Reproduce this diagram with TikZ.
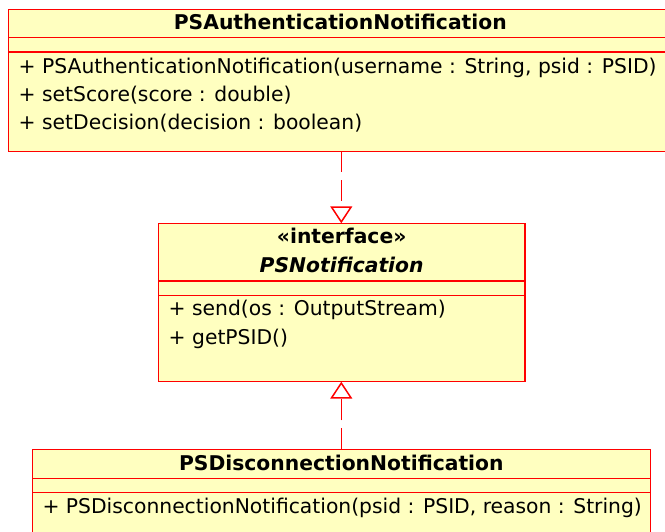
\documentclass[tikz,border=0pt]{standalone}
\usepackage{fontspec}
\setmainfont{DejaVu Sans}
\usetikzlibrary{arrows.meta}
\definecolor{umlfill}{RGB}{255,255,192}
\definecolor{umlline}{RGB}{255,0,0}

\begin{document}
\begin{tikzpicture}[x=1pt,y=-1pt,
  classbox/.style={draw=umlline, fill=umlfill, line width=1.5pt, anchor=north west,
    inner sep=0pt, outer sep=0pt},
  sepline/.style={draw=umlline, line width=1.5pt},
  classtitle/.style={anchor=base, inner sep=0pt,
    font=\fontsize{20.3}{24}\selectfont\bfseries},
  member/.style={anchor=base west, inner sep=0pt,
    font=\fontsize{20.3}{24}\selectfont},
  realize/.style={draw=umlline, line width=1.5pt, dash pattern=on 21pt off 8pt,
    -{Triangle[open, length=17pt, width=22pt, fill=white]}}
]
\useasboundingbox (0,0) rectangle (665,532);
\fill[white] (0,0) rectangle (665,532);

% PSAuthenticationNotification
\node[classbox, minimum width=664pt, minimum height=142pt] (auth) at (8.3,9.3) {};
\draw[sepline] ([yshift=-28.4pt]auth.north west) -- ([yshift=-28.4pt]auth.north east);
\draw[sepline] ([yshift=-42.7pt]auth.north west) -- ([yshift=-42.7pt]auth.north east);
\node[classtitle] (authname) at ([yshift=-20.7pt]auth.north) {PSAuthenticationNotification};
\node[member] (authop1) at ([xshift=10.2pt,yshift=-64pt]auth.north west)
  {+ PSAuthenticationNotification(username : String, psid : PSID)};
\node[member] (authop2) at ([xshift=10.2pt,yshift=-92.4pt]auth.north west)
  {+ setScore(score : double)};
\node[member] (authop3) at ([xshift=10.2pt,yshift=-120.7pt]auth.north west)
  {+ setDecision(decision : boolean)};

% PSNotification interface
\node[classbox, minimum width=366.7pt, minimum height=158.4pt] (iface) at (158.3,223.3) {};
\draw[sepline] ([yshift=-57.5pt]iface.north west) -- ([yshift=-57.5pt]iface.north east);
\draw[sepline] ([yshift=-72.2pt]iface.north west) -- ([yshift=-72.2pt]iface.north east);
\node[classtitle] (ifacestereo) at ([yshift=-20.5pt]iface.north) {«interface»};
\node[classtitle, font=\fontsize{20.3}{24}\selectfont\bfseries\itshape] (ifacename)
  at ([yshift=-49pt]iface.north) {PSNotification};
\node[member] (ifaceop1) at ([xshift=10.2pt,yshift=-92.4pt]iface.north west)
  {+ send(os : OutputStream)};
\node[member] (ifaceop2) at ([xshift=10.2pt,yshift=-121.4pt]iface.north west)
  {+ getPSID()};

% PSDisconnectionNotification
\node[classbox, minimum width=618pt, minimum height=120pt] (disc) at (32.3,449.3) {};
\draw[sepline] ([yshift=-29pt]disc.north west) -- ([yshift=-29pt]disc.north east);
\draw[sepline] ([yshift=-43.4pt]disc.north west) -- ([yshift=-43.4pt]disc.north east);
\node[classtitle] (discname) at ([yshift=-20.7pt]disc.north) {PSDisconnectionNotification};
\node[member] (discop1) at ([xshift=10pt,yshift=-64pt]disc.north west)
  {+ PSDisconnectionNotification(psid : PSID, reason : String)};

% realizations of the interface
\coordinate (upper) at (341.3,0);
\coordinate (lower) at (341.3,0);
\draw[realize] (auth.south -| upper) -- (iface.north -| upper);
\draw[realize] (disc.north -| lower) -- (iface.south -| lower);
\end{tikzpicture}
\end{document}
